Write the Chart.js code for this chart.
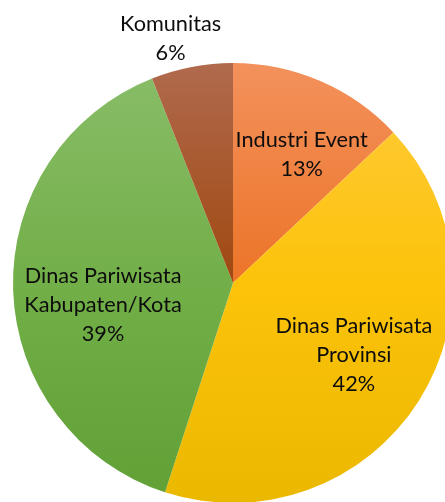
<!DOCTYPE html>
<html>
<head>
<meta charset="utf-8">
<script src="https://cdn.jsdelivr.net/npm/chart.js@4"></script>
<style>
  html, body { margin: 0; padding: 0; background: #fff; overflow: hidden; }
  #wrap { width: 445px; height: 502px; overflow: hidden; }
  canvas { display: block; }
</style>
</head>
<body>
<div id="wrap"><canvas id="pie" width="466" height="566"></canvas></div>
<script>
const categories = [
    ['Industri Event'],
    ['Dinas Pariwisata', 'Provinsi'],
    ['Dinas Pariwisata', 'Kabupaten/Kota'],
    ['Komunitas']
];
const shares = [13, 42, 39, 6];

// top / middle / bottom colour of each slice gradient
const gradTop = ['#f3915c', '#ffcb3e', '#89bd69', '#b06a4d'];
const gradMid = ['#ec7428', '#fcc30a', '#72af48', '#a04810'];
const gradBottom = ['#df6212', '#ebb800', '#60a035', '#933a04'];

// label placement: fraction of radius along the slice middle, then pixel nudge
const labelRadius = [0.66, 0.64, 0.6, 1.15];
const labelNudge = [[11, 5], [2, -3], [2, 18], [-15, 4]];

const sliceLabels = {
    id: 'sliceLabels',
    afterDatasetsDraw(chart) {
        const ctx = chart.ctx;
        const meta = chart.getDatasetMeta(0);
        ctx.save();
        ctx.font = "21.7px Lato, sans-serif";
        ctx.fillStyle = '#0d0d0d';
        ctx.textAlign = 'center';
        ctx.textBaseline = 'middle';
        const lineH = 29;
        meta.data.forEach((arc, i) => {
            const p = arc.getProps(['x', 'y', 'startAngle', 'endAngle', 'outerRadius'], true);
            const mid = (p.startAngle + p.endAngle) / 2;
            const r = p.outerRadius * labelRadius[i];
            const cx = p.x + Math.cos(mid) * r + labelNudge[i][0];
            const cy = p.y + Math.sin(mid) * r + labelNudge[i][1];
            const lines = categories[i].concat([shares[i] + '%']);
            const y0 = cy - (lines.length - 1) * lineH / 2;
            lines.forEach((t, k) => ctx.fillText(t, cx, y0 + k * lineH));
        });
        ctx.restore();
    }
};

function sliceFill(context) {
    const chart = context.chart;
    const area = chart.chartArea;
    if (!area) return gradMid[context.dataIndex];
    const i = context.dataIndex;
    const g = chart.ctx.createLinearGradient(0, area.top, 0, area.bottom);
    g.addColorStop(0, gradTop[i]);
    g.addColorStop(0.5, gradMid[i]);
    g.addColorStop(1, gradBottom[i]);
    return g;
}

new Chart(document.getElementById('pie'), {
    type: 'pie',
    data: {
        labels: categories,
        datasets: [{
            data: shares,
            backgroundColor: sliceFill,
            borderWidth: 0
        }]
    },
    options: {
        responsive: false,
        animation: false,
        layout: { padding: { left: 13, right: 13, top: 63, bottom: 63 } },
        plugins: {
            legend: { display: false },
            tooltip: { enabled: false }
        }
    },
    plugins: [sliceLabels]
});
</script>
</body>
</html>
